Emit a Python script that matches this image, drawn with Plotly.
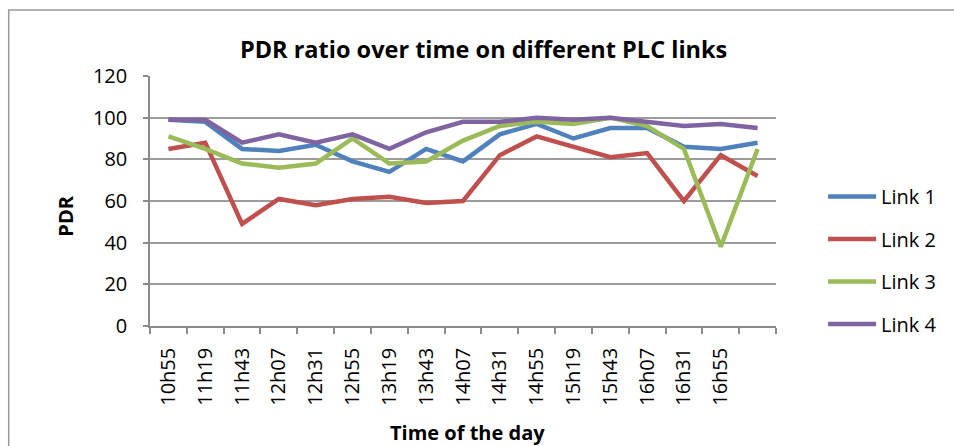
import plotly.graph_objects as go

times = ["10h55", "11h19", "11h43", "12h07", "12h31", "12h55", "13h19", "13h43",
         "14h07", "14h31", "14h55", "15h19", "15h43", "16h07", "16h31", "16h55", " "]
link1 = [99, 98, 85, 84, 87, 79, 74, 85, 79, 92, 97, 90, 95, 95, 86, 85, 88]
link2 = [85, 88, 49, 61, 58, 61, 62, 59, 60, 82, 91, 86, 81, 83, 60, 82, 72]
link3 = [91, 85, 78, 76, 78, 90, 78, 79, 89, 96, 98, 97, 100, 96, 85, 38, 85]
link4 = [99, 99, 88, 92, 88, 92, 85, 93, 98, 98, 100, 99, 100, 98, 96, 97, 95]
names = ["Link 1", "Link 2", "Link 3", "Link 4"]
colors = ["#4F81BD", "#C0504D", "#9BBB59", "#8064A2"]
yticks = [0, 20, 40, 60, 80, 100, 120]

FONT = "Open Sans, Lato, sans-serif"
L, R, T, B = 150, 788, 76, 326
W, H = 954, 446
pw, ph = R - L, B - T

def px(x):
    return (x - L) / pw

def py(y):
    return (B - y) / ph

fig = go.Figure()
for i, (name, vals) in enumerate(zip(names, [link1, link2, link3, link4])):
    fig.add_trace(go.Scatter(x=times, y=vals, mode="lines", name=name,
                             legendgroup=name,
                             line=dict(color=colors[i], width=4.5)))

fig.update_layout(
    width=W, height=H,
    margin=dict(l=L, r=W - R, t=T, b=H - B, pad=0),
    paper_bgcolor="white", plot_bgcolor="white",
    font=dict(family=FONT, color="black", size=20),
    title=dict(text="<b>PDR ratio over time on different PLC links</b>",
               x=px(490), xref="paper", xanchor="center",
               y=1 - 50 / H, yanchor="middle", yref="container",
               font=dict(size=23.5, family=FONT)),
    showlegend=True,
    legend=dict(x=px(836), xanchor="left", y=py(177), yanchor="top",
                font=dict(size=20, family=FONT), tracegroupgap=13.5,
                bgcolor="rgba(0,0,0,0)", itemwidth=48),
    xaxis=dict(type="category", categoryorder="array", categoryarray=times,
               tickson="boundaries", ticks="outside", ticklen=6, tickwidth=1.5,
               tickcolor="#8c8c8c", showline=True, linecolor="#8c8c8c", linewidth=1.5,
               showgrid=False, tickangle=-90, tickfont=dict(size=20),
               ticklabelstandoff=12,
               range=[-0.5, len(times) - 0.5], zeroline=False),
    yaxis=dict(range=[0, 120], tickvals=yticks, ticks="outside", ticklen=5,
               tickwidth=1.5, tickcolor="#8c8c8c", showline=True, linecolor="#8c8c8c",
               linewidth=1.5, showgrid=True, gridcolor="#9c9c9c", gridwidth=1.5,
               tickfont=dict(size=20), zeroline=False, ticklabelstandoff=12),
    annotations=[
        dict(text="<b>Time of the day</b>", xref="paper", yref="paper",
             x=px(474), y=py(432), xanchor="center", yanchor="middle",
             showarrow=False, font=dict(size=20, family=FONT)),
        dict(text="<b>PDR</b>", xref="paper", yref="paper",
             x=px(63), y=py(216), xanchor="center", yanchor="middle",
             textangle=-90, showarrow=False, font=dict(size=20, family=FONT)),
    ],
    shapes=[dict(type="rect", xref="paper", yref="paper",
                 x0=px(6), x1=px(1010), y0=py(10), y1=py(500),
                 line=dict(color="#9a9a9a", width=1.5), layer="below")],
)

fig.write_html("out.html", config={"displayModeBar": False},
               post_script="document.body.style.margin='0px';"
                           "document.body.style.overflow='hidden';"
                           "document.documentElement.style.overflow='hidden';")
